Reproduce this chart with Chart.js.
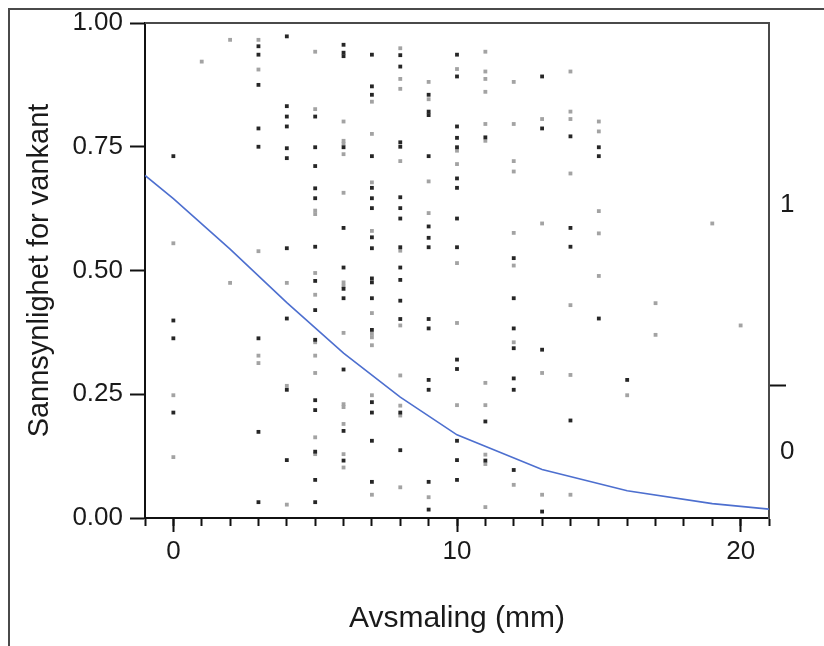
<!DOCTYPE html>
<html lang="no">
<head>
<meta charset="utf-8">
<title>Sannsynlighet for vankant</title>
<script src="https://cdn.jsdelivr.net/npm/chart.js@4.4.1/dist/chart.umd.min.js"></script>
<style>
  html, body { margin: 0; padding: 0; background: #fff; }
  #wrap { width: 824px; height: 646px; }
</style>
</head>
<body>
<div id="wrap"><canvas id="vankantChart" width="824" height="646"></canvas></div>
<script>
// ─── Akser ────────────────────────────────────────
const xTicks = [0, 10, 20];
const yTicks = [0, 0.25, 0.5, 0.75, 1];
const responsTicks = [0.133, 0.267, 0.633];
const responsLabels = ['0', '', '1'];
const responsGrense = 0.267;

// ─── Punkter med vankant (mørke) ─────────────────
const morkX = [
  0, 0, 0, 0,
  3, 3, 3, 3, 3, 3, 3, 3,
  4, 4, 4, 4, 4, 4, 4, 4, 4, 4,
  5, 5, 5, 5, 5, 5, 5, 5, 5, 5, 5, 5, 5, 5,
  6, 6, 6, 6, 6, 6, 6, 6, 6, 6, 6,
  7, 7, 7, 7, 7, 7, 7, 7, 7, 7, 7, 7, 7, 7, 7, 7, 7,
  8, 8, 8, 8, 8, 8, 8, 8, 8, 8, 8, 8, 8, 8,
  9, 9, 9, 9, 9, 9, 9, 9, 9, 9, 9, 9, 9,
  10, 10, 10, 10, 10, 10, 10, 10, 10, 10, 10, 10, 10, 10,
  11, 11, 11,
  12, 12, 12, 12, 12, 12, 12,
  13, 13, 13, 13,
  14, 14, 14, 14,
  15, 15, 15,
  16
];
const morkY = [
  0.731, 0.399, 0.363, 0.213,
  0.953, 0.936, 0.875, 0.787, 0.750, 0.363, 0.174, 0.032,
  0.973, 0.832, 0.811, 0.791, 0.747, 0.727, 0.545, 0.403, 0.259, 0.117,
  0.811, 0.749, 0.711, 0.666, 0.646, 0.548, 0.479, 0.420, 0.360, 0.238, 0.218, 0.134, 0.077, 0.032,
  0.956, 0.940, 0.933, 0.749, 0.586, 0.506, 0.463, 0.444, 0.300, 0.176, 0.116,
  0.936, 0.872, 0.855, 0.731, 0.667, 0.646, 0.626, 0.567, 0.545, 0.484, 0.476, 0.444, 0.380, 0.234, 0.213, 0.156, 0.073,
  0.935, 0.912, 0.759, 0.750, 0.648, 0.626, 0.605, 0.547, 0.506, 0.481, 0.439, 0.402, 0.213, 0.137,
  0.855, 0.821, 0.814, 0.731, 0.589, 0.566, 0.547, 0.402, 0.383, 0.279, 0.259, 0.073, 0.017,
  0.936, 0.892, 0.791, 0.768, 0.749, 0.686, 0.667, 0.605, 0.547, 0.320, 0.301, 0.156, 0.117, 0.077,
  0.769, 0.195, 0.116,
  0.525, 0.444, 0.383, 0.343, 0.282, 0.259, 0.097,
  0.892, 0.787, 0.340, 0.013,
  0.771, 0.586, 0.548, 0.197,
  0.749, 0.731, 0.403,
  0.279
];

// ─── Punkter uten vankant (lyse) ─────────────────
const lysX = [
  0, 0, 0,
  1,
  2, 2,
  3, 3, 3, 3, 3,
  4, 4, 4,
  5, 5, 5, 5, 5, 5, 5, 5, 5, 5, 5,
  6, 6, 6, 6, 6, 6, 6, 6, 6, 6, 6, 6, 6,
  7, 7, 7, 7, 7, 7, 7, 7, 7, 7,
  8, 8, 8, 8, 8, 8, 8, 8, 8, 8,
  9, 9, 9, 9, 9,
  10, 10, 10, 10, 10, 10,
  11, 11, 11, 11, 11, 11, 11, 11, 11, 11, 11,
  12, 12, 12, 12, 12, 12, 12, 12,
  13, 13, 13, 13,
  14, 14, 14, 14, 14, 14, 14,
  15, 15, 15, 15, 15,
  16,
  17, 17,
  19,
  20
];
const lysY = [
  0.555, 0.248, 0.123,
  0.922,
  0.966, 0.475,
  0.966, 0.906, 0.539, 0.328, 0.313,
  0.475, 0.267, 0.027,
  0.942, 0.826, 0.621, 0.614, 0.495, 0.451, 0.355, 0.328, 0.293, 0.163, 0.129,
  0.801, 0.762, 0.756, 0.735, 0.657, 0.476, 0.469, 0.374, 0.230, 0.224, 0.190, 0.129, 0.102,
  0.841, 0.776, 0.678, 0.580, 0.414, 0.372, 0.365, 0.349, 0.248, 0.047,
  0.949, 0.887, 0.867, 0.721, 0.540, 0.389, 0.288, 0.227, 0.207, 0.062,
  0.881, 0.846, 0.680, 0.616, 0.042,
  0.907, 0.742, 0.715, 0.515, 0.394, 0.228,
  0.942, 0.902, 0.887, 0.861, 0.796, 0.762, 0.273, 0.228, 0.128, 0.109, 0.022,
  0.881, 0.796, 0.721, 0.700, 0.576, 0.510, 0.355, 0.067,
  0.806, 0.595, 0.293, 0.047,
  0.902, 0.821, 0.806, 0.696, 0.430, 0.289, 0.047,
  0.801, 0.781, 0.620, 0.575, 0.489,
  0.248,
  0.434, 0.370,
  0.595,
  0.389
];

// ─── Logistisk kurve ─────────────────────────────
const kurveX = [-1, 0, 2, 4, 6, 8, 10, 13, 16, 19, 21];
const kurveY = [0.692, 0.645, 0.543, 0.435, 0.333, 0.244, 0.168, 0.098, 0.055, 0.029, 0.018];

// ─── Hjelpere ─────────────────────────────────────
const tilPunkter = (xs, ys) => xs.map((x, i) => ({ x, y: ys[i] }));
const fontFamilie = "'Liberation Sans', Arial, sans-serif";
const tekstFarge = '#1a1a1a';
const aksefarge = '#111';
const rammefarge = '#4a4a4a';

// Ytre ramme og topplinje rundt plottet
const rammePlugin = {
  id: 'ramme',
  afterDraw(chart) {
    const { ctx, chartArea: a } = chart;
    ctx.save();
    ctx.strokeStyle = rammefarge;
    ctx.lineWidth = 2;
    ctx.beginPath();
    ctx.moveTo(9, chart.height + 5);
    ctx.lineTo(9, 9);
    ctx.lineTo(chart.width + 5, 9);
    ctx.moveTo(a.left, a.top);
    ctx.lineTo(a.right + 1, a.top);
    ctx.stroke();
    ctx.restore();
  }
};

const ctx = document.getElementById('vankantChart').getContext('2d');

new Chart(ctx, {
  type: 'scatter',
  data: {
    datasets: [
      {
        label: 'Kurve',
        data: tilPunkter(kurveX, kurveY),
        showLine: true,
        borderColor: '#4d6fcf',
        borderWidth: 1.6,
        pointRadius: 0,
        tension: 0,
        order: 0
      },
      {
        label: 'Vankant',
        data: tilPunkter(morkX, morkY),
        pointStyle: 'rect',
        pointRadius: 2.7,
        pointBorderWidth: 0,
        backgroundColor: '#262626',
        borderColor: '#262626',
        order: 1
      },
      {
        label: 'Ingen vankant',
        data: tilPunkter(lysX, lysY),
        pointStyle: 'rect',
        pointRadius: 2.7,
        pointBorderWidth: 0,
        backgroundColor: '#a3a3a3',
        borderColor: '#a3a3a3',
        order: 2
      }
    ]
  },
  options: {
    responsive: false,
    animation: false,
    devicePixelRatio: 1,
    layout: { padding: { top: 23, left: 0, right: 0, bottom: 0 } },
    plugins: {
      legend: { display: false },
      tooltip: { enabled: false }
    },
    scales: {
      xMinor: {
        type: 'linear',
        position: 'bottom',
        weight: 0,
        min: -1,
        max: 21,
        ticks: { display: false, stepSize: 1 },
        grid: { drawOnChartArea: false, tickLength: 8, tickWidth: 2, color: aksefarge },
        border: { display: true, color: aksefarge, width: 2 },
        afterFit: s => { s.height = 0; }
      },
      x: {
        type: 'linear',
        position: 'bottom',
        weight: 1,
        min: -1,
        max: 21,
        afterBuildTicks: s => { s.ticks = xTicks.map(v => ({ value: v })); },
        ticks: {
          padding: 4,
          color: tekstFarge,
          font: { family: fontFamilie, size: 26 },
          callback: v => String(v)
        },
        grid: { drawOnChartArea: false, tickLength: 14, tickWidth: 2, color: aksefarge },
        border: { display: false },
        title: {
          display: true,
          text: 'Avsmaling (mm)',
          color: tekstFarge,
          font: { family: fontFamilie, size: 30 },
          padding: { top: 0, bottom: 9 }
        },
        afterFit: s => { s.height = 128; }
      },
      y: {
        type: 'linear',
        position: 'left',
        min: 0,
        max: 1,
        afterBuildTicks: s => { s.ticks = yTicks.map(v => ({ value: v })); },
        ticks: {
          padding: 7,
          color: tekstFarge,
          font: { family: fontFamilie, size: 26 },
          callback: v => Number(v).toFixed(2)
        },
        grid: { drawOnChartArea: false, tickLength: 15, tickWidth: 2, color: aksefarge },
        border: { display: true, color: aksefarge, width: 2 },
        title: {
          display: true,
          text: 'Sannsynlighet for vankant',
          color: tekstFarge,
          font: { family: fontFamilie, size: 29 },
          padding: { top: 23, bottom: 0 }
        },
        afterFit: s => { s.width = 145; }
      },
      yRespons: {
        type: 'linear',
        position: 'right',
        min: 0,
        max: 1,
        afterBuildTicks: s => { s.ticks = responsTicks.map(v => ({ value: v })); },
        ticks: {
          padding: -6,
          color: tekstFarge,
          font: { family: fontFamilie, size: 26 },
          callback: v => responsLabels[responsTicks.indexOf(v)] ?? ''
        },
        grid: {
          drawOnChartArea: false,
          tickLength: 17,
          tickWidth: 2,
          tickColor: c => (c.tick && c.tick.value === responsGrense) ? aksefarge : 'rgba(0,0,0,0)'
        },
        border: { display: true, color: rammefarge, width: 2 },
        afterFit: s => { s.width = 55; }
      }
    }
  },
  plugins: [rammePlugin]
});
</script>
</body>
</html>
